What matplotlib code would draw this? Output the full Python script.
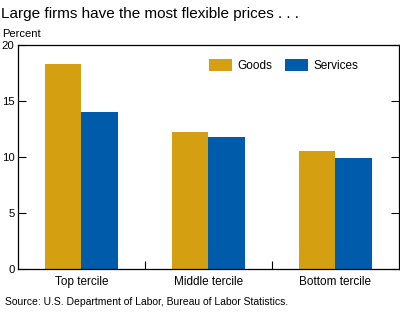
import matplotlib.pyplot as plt
import numpy as np

plt.rcParams['font.family'] = ['Liberation Sans', 'DejaVu Sans']

categories = ['Top tercile', 'Middle tercile', 'Bottom tercile']
goods = [18.3, 12.2, 10.5]
services = [14.0, 11.8, 9.9]

gold = '#D59F12'
blue = '#005BAA'

fig = plt.figure(figsize=(4, 3.21), dpi=100, facecolor='w')
ax = fig.add_axes([0.045, 0.162, 0.952, 0.698])

x = np.arange(len(categories))
w = 0.288
ax.bar(x - w / 2, goods, w, color=gold, label='Goods')
ax.bar(x + w / 2, services, w, color=blue, label='Services')

ax.set_xlim(-0.5, 2.5)
ax.set_ylim(0, 20)
ax.set_yticks([0, 5, 10, 15, 20])
ax.set_yticklabels(['0', '5', '10', '15', '20'])
ax.tick_params(axis='y', direction='in', length=6, width=0.8, labelsize=8.2,
               pad=2.5, right=True)
ax.set_xticks(x)
ax.set_xticklabels(categories)
ax.set_xticks([0.5, 1.5], minor=True)
ax.tick_params(axis='x', which='major', length=0, labelsize=8.5, pad=5)
ax.tick_params(axis='x', which='minor', direction='in', length=6, width=0.8)
for s in ax.spines.values():
    s.set_linewidth(0.9)

ax.legend(loc='upper right', bbox_to_anchor=(0.915, 0.975), ncol=2, frameon=False,
          fontsize=8.5, handlelength=1.95, handleheight=1.2, columnspacing=1.1,
          handletextpad=0.45, borderpad=0.2)

fig.text(0.002, 0.978, 'Large firms have the most flexible prices . . .',
         fontsize=11, va='top', ha='left')
fig.text(0.005, 0.878, 'Percent', fontsize=8, va='bottom', ha='left')
fig.text(0.012, 0.06, 'Source: U.S. Department of Labor, Bureau of Labor Statistics.',
         fontsize=7.5, va='center', ha='left')

plt.savefig('out.png', dpi=100)
